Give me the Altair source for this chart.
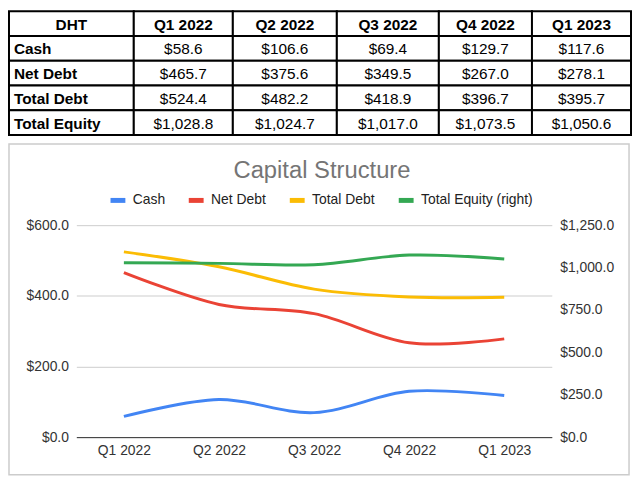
import altair as alt
import pandas as pd

# ---------------- data ----------------
QUARTERS = ["Q1 2022", "Q2 2022", "Q3 2022", "Q4 2022", "Q1 2023"]
CASH = [58.6, 106.6, 69.4, 129.7, 117.6]
NET_DEBT = [465.7, 375.6, 349.5, 267.0, 278.1]
TOTAL_DEBT = [524.4, 482.2, 418.9, 396.7, 395.7]
TOTAL_EQUITY = [1028.8, 1024.7, 1017.0, 1073.5, 1050.6]
ROW_LABELS = ["Cash", "Net Debt", "Total Debt", "Total Equity"]
CORNER = "DHT"
SERIES_LEFT = ["Cash", "Net Debt", "Total Debt"]
SERIES_RIGHT = "Total Equity (right)"
TITLE = "Capital Structure"
LEFT_TICKS = [0, 200, 400, 600]
RIGHT_TICKS = [0, 250, 500, 750, 1000, 1250]

# ---------------- layout / style ----------------
FONT = "Liberation Sans"
COLORS = ["#4285F4", "#EA4335", "#FBBC04", "#34A853"]
PLOT_W = 480
PLOT_H = 214
TABLE_FS = 15.5
# table placement (pixels, relative to the plot area's top-left corner)
COL_EDGES = [-68, 58, 158, 263, 366, 460, 560]
TABLE_TOP = -216
ROW_H = 25
# chart frame (relative to the plot area)
FRAME_L, FRAME_R = -68, PLOT_W + 78
FRAME_T, FRAME_B = -82, PLOT_H + 38

rows_order = [CORNER] + ROW_LABELS
values_by_row = [CASH, NET_DEBT, TOTAL_DEBT, TOTAL_EQUITY]


def fmt(v):
    return f"${v:,.1f}"


row_scale = alt.Scale(domain=rows_order,
                      range=[TABLE_TOP, TABLE_TOP + ROW_H * len(rows_order)],
                      paddingInner=0, paddingOuter=0)


def table_col(header, cells, left, right, first=False):
    df = pd.DataFrame({
        "col": [header] * len(rows_order),
        "row": rows_order,
        "text": [header] + cells,
        "kind": ["head"] + ["body"] * len(cells),
    })
    xs = alt.Scale(domain=[header], range=[left, right], paddingInner=0, paddingOuter=0)
    base = alt.Chart(df).encode(y=alt.Y("row:N", scale=row_scale, axis=None),
                                x=alt.X("col:N", axis=None, scale=xs))
    rect = base.mark_rect(fill="white", stroke="black", strokeWidth=2)
    head = base.mark_text(font=FONT, fontSize=TABLE_FS, fontWeight="bold", color="black",
                          baseline="middle", dy=1).encode(text="text:N"
    ).transform_filter(alt.datum.kind == "head")
    if first:
        body = base.mark_text(font=FONT, fontSize=TABLE_FS, fontWeight="bold", color="black",
                              align="left", baseline="middle",
                              dx=-(right - left) / 2 + 5, dy=1).encode(text="text:N"
        ).transform_filter(alt.datum.kind == "body")
    else:
        body = base.mark_text(font=FONT, fontSize=TABLE_FS, color="black",
                              baseline="middle", dy=1).encode(text="text:N"
        ).transform_filter(alt.datum.kind == "body")
    return [rect, head, body]


table_layers = table_col(CORNER, ROW_LABELS, COL_EDGES[0], COL_EDGES[1], first=True)
for i, q in enumerate(QUARTERS):
    table_layers += table_col(q, [fmt(vals[i]) for vals in values_by_row],
                              COL_EDGES[i + 1], COL_EDGES[i + 2])

# ---------------- line chart ----------------
left_df = pd.DataFrame([
    {"quarter": q, "series": s, "value": v}
    for s, vals in zip(SERIES_LEFT, [CASH, NET_DEBT, TOTAL_DEBT])
    for q, v in zip(QUARTERS, vals)
])
right_df = pd.DataFrame({"quarter": QUARTERS, "series": [SERIES_RIGHT] * len(QUARTERS),
                         "value": TOTAL_EQUITY})

color = alt.Color(
    "series:N",
    scale=alt.Scale(domain=SERIES_LEFT + [SERIES_RIGHT], range=COLORS),
    legend=alt.Legend(title=None, orient="none", direction="horizontal",
                      legendX=32, legendY=-35, padding=0, symbolType="stroke",
                      symbolStrokeWidth=5, symbolSize=225, labelFont=FONT,
                      labelFontSize=14, labelColor="#222", columnPadding=13,
                      labelOffset=5),
)
xenc = alt.X("quarter:N", sort=QUARTERS, scale=alt.Scale(domain=QUARTERS),
             axis=alt.Axis(title=None, labelAngle=0, ticks=False, grid=False,
                           domainColor="#333", labelPadding=7))

frame = alt.Chart(pd.DataFrame({"frame": [0]})).mark_rect(
    filled=False, stroke="#cccccc", strokeWidth=1.5).encode(
    x=alt.value(FRAME_L), x2=alt.value(FRAME_R),
    y=alt.value(FRAME_T), y2=alt.value(FRAME_B))

title = alt.Chart(pd.DataFrame({"t": [TITLE]})).mark_text(
    font=FONT, fontSize=24, color="#757575", baseline="alphabetic", align="center").encode(
    text="t:N", x=alt.value((FRAME_L + FRAME_R) / 2 + 3), y=alt.value(-48))

left_lines = alt.Chart(left_df).mark_line(strokeWidth=3, interpolate="cardinal").encode(
    x=xenc,
    y=alt.Y("value:Q", scale=alt.Scale(domain=[0, 600], nice=False),
            axis=alt.Axis(orient="left", values=LEFT_TICKS, format="$,.1f", title=None,
                          grid=True, domain=False, ticks=False, labelPadding=8)),
    color=color,
)
right_lines = alt.Chart(right_df).mark_line(strokeWidth=3, interpolate="cardinal").encode(
    x=xenc,
    y=alt.Y("value:Q", scale=alt.Scale(domain=[0, 1250], nice=False),
            axis=alt.Axis(orient="right", values=RIGHT_TICKS, format="$,.1f", title=None,
                          grid=False, domain=False, ticks=False, labelPadding=8)),
    color=color,
)

lines = alt.layer(left_lines, right_lines).resolve_scale(y="independent")

chart = alt.layer(*table_layers, frame, title, lines).resolve_scale(
    x="independent", y="independent"
).properties(width=PLOT_W, height=PLOT_H, padding=0).configure_view(
    stroke=None
).configure_axis(
    labelFont=FONT, labelFontSize=14, labelColor="#333", gridColor="#cccccc"
)

chart.save("out.html", embed_options={"renderer": "svg", "actions": False})
